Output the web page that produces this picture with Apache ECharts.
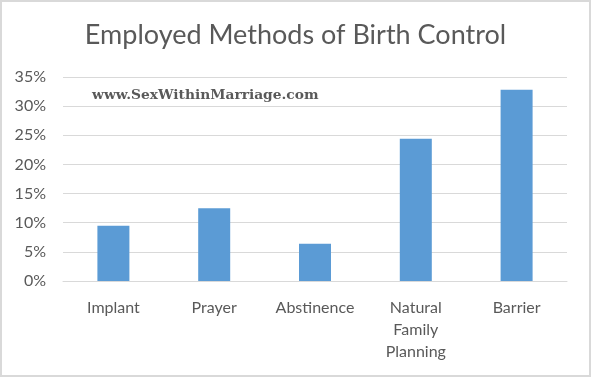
<!DOCTYPE html>
<html>
<head>
<meta charset="utf-8">
<script src="https://cdn.jsdelivr.net/npm/echarts@6/dist/echarts.min.js"></script>
<style>
  html, body { margin: 0; padding: 0; background: #fff; }
  #main { width: 591px; height: 377px; }
</style>
</head>
<body>
<div id="main"></div>
<script>
// data
const categories = ["Implant", "Prayer", "Abstinence", "Natural\nFamily\nPlanning", "Barrier"];
const shares = [9.5, 12.5, 6.4, 24.4, 32.8];
const yTicks = [0, 5, 10, 15, 20, 25, 30, 35];

const myChart = echarts.init(document.getElementById("main"));

const option = {
  backgroundColor: "#fff",
  animation: false,
  textStyle: { fontFamily: "Lato" },
  title: {
    text: "Employed Methods of Birth Control",
    left: "center",
    top: 17,
    textStyle: { fontFamily: "Lato", fontSize: 27, fontWeight: "normal", color: "#595959" }
  },
  grid: { left: 63, right: 24, top: 77, bottom: 96 },
  xAxis: {
    type: "category",
    data: categories,
    axisLine: { lineStyle: { color: "#d9d9d9" } },
    axisTick: { show: false },
    axisLabel: { interval: 0, color: "#595959", fontSize: 16, lineHeight: 22, margin: 16 }
  },
  yAxis: {
    type: "value",
    min: yTicks[0],
    max: yTicks[yTicks.length - 1],
    interval: 5,
    axisLine: { show: false },
    axisTick: { show: false },
    splitLine: { lineStyle: { color: "#d9d9d9" } },
    axisLabel: { color: "#595959", fontSize: 16, margin: 17, formatter: "{value}%" }
  },
  series: [
    {
      type: "bar",
      data: shares,
      barWidth: 32,
      itemStyle: { color: "#5b9bd5" }
    }
  ],
  graphic: [
    {
      type: "rect",
      shape: { x: 1, y: 1, width: 589, height: 375 },
      style: { fill: "none", stroke: "#d9d9d9", lineWidth: 2 },
      silent: true
    },
    {
      type: "text",
      left: 92,
      top: 88,
      style: {
        text: "www.SexWithinMarriage.com",
        font: "bold 13.8px 'DejaVu Serif'",
        fill: "#595959"
      }
    }
  ]
};

myChart.setOption(option);
</script>
</body>
</html>
